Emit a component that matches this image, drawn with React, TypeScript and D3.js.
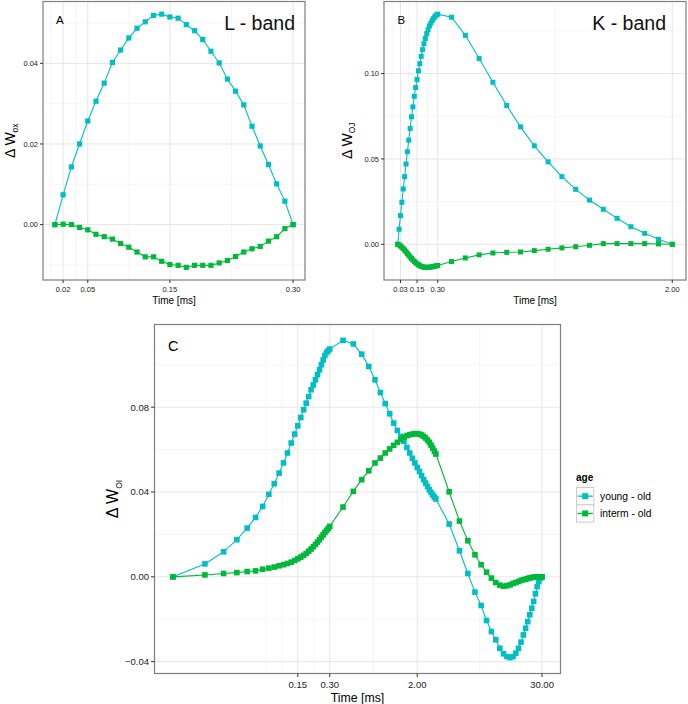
import React from 'react';
import * as d3 from 'd3';

// ---------- data ----------
const timeFast = [0.01, 0.02, 0.03, 0.04, 0.05, 0.06, 0.07, 0.08, 0.09, 0.1, 0.11, 0.12, 0.13, 0.14, 0.15, 0.16, 0.17, 0.18, 0.19, 0.2, 0.21, 0.22, 0.23, 0.24, 0.25, 0.26, 0.27, 0.28, 0.29, 0.3];
const timeMid = [0.4, 0.5, 0.6, 0.7, 0.8, 0.9, 1.0, 1.1, 1.2, 1.3, 1.4, 1.5, 1.6, 1.7, 1.8, 1.9, 2.0];
const timeMidTail = [2.1, 2.2, 2.3, 2.4, 2.5, 2.6, 2.7, 2.8, 2.9, 3.0];
const timeSlow = [4, 5, 6, 7, 8, 9, 10, 11, 12, 13, 14, 15, 16, 17, 18, 19, 20, 21, 22, 23, 24, 25, 26, 27, 28, 29, 30];

const timeL = timeFast;
const timeK = [...timeFast, ...timeMid];
const timeOI = [...timeFast, ...timeMid, ...timeMidTail, ...timeSlow];

const seriesNames = ['young - old', 'interm - old'];
const seriesColors = ['#00BFC4', '#00B83A'];

const lYoung = [0, 0.0074, 0.0143, 0.0200, 0.0257, 0.0306, 0.0351, 0.0402, 0.0433, 0.0463, 0.0487, 0.0503, 0.0519, 0.0522, 0.0515, 0.0512, 0.0496, 0.0481, 0.0459, 0.0430, 0.0401, 0.0361, 0.0331, 0.0297, 0.0244, 0.0195, 0.0149, 0.0101, 0.0058, 0];
const lInterm = [0, 0.0001, 0, -0.0007, -0.0013, -0.0024, -0.0030, -0.0036, -0.0047, -0.0056, -0.0068, -0.0080, -0.0080, -0.0091, -0.0099, -0.0101, -0.0106, -0.0101, -0.0101, -0.0101, -0.0095, -0.0089, -0.0079, -0.0068, -0.0060, -0.0054, -0.0041, -0.0030, -0.0010, 0];

const kYoung = [0, 0.0088, 0.0168, 0.0246, 0.0324, 0.0396, 0.0470, 0.0542, 0.0610, 0.0678, 0.0747, 0.0805, 0.0867, 0.0918, 0.0965, 0.1016, 0.1058, 0.1101, 0.1140, 0.1175, 0.1205, 0.1234, 0.1257, 0.1279, 0.1296, 0.1312, 0.1324, 0.1335, 0.1343, 0.1348,
  0.1330, 0.1224, 0.1088, 0.0949, 0.0813, 0.0688, 0.0577, 0.0483, 0.0396, 0.0322, 0.0259, 0.0205, 0.0152, 0.0103, 0.0064, 0.0029, 0];
const kInterm = [0, -0.0004, -0.0010, -0.0017, -0.0025, -0.0034, -0.0044, -0.0054, -0.0064, -0.0074, -0.0083, -0.0092, -0.0100, -0.0108, -0.0114, -0.0120, -0.0125, -0.0129, -0.0132, -0.0134, -0.0135, -0.0135, -0.0135, -0.0134, -0.0133, -0.0132, -0.0130, -0.0128, -0.0126, -0.0124,
  -0.0101, -0.0080, -0.0062, -0.0051, -0.0047, -0.0045, -0.0037, -0.0029, -0.0021, -0.0014, -0.0006, 0.0004, 0.0004, 0.0004, 0.0004, 0.0002, 0];

const oiYoung = [0, 0.0061, 0.0118, 0.0175, 0.0230, 0.0280, 0.0332, 0.0389, 0.0439, 0.0489, 0.0537, 0.0584, 0.0631, 0.0673, 0.0712, 0.0751, 0.0788, 0.0819, 0.0850, 0.0882, 0.0905, 0.0929, 0.0953, 0.0976, 0.1000, 0.1023, 0.1044, 0.1058, 0.1067, 0.1074,
  0.1115, 0.1098, 0.1050, 0.0992, 0.0929, 0.0869, 0.0817, 0.0769, 0.0725, 0.0690, 0.0662, 0.0639, 0.0610, 0.0584, 0.0559, 0.0537, 0.0516,
  0.0497, 0.0477, 0.0458, 0.0442, 0.0426, 0.0411, 0.0398, 0.0387, 0.0376, 0.0367,
  0.0249, 0.0123, 0.0016, -0.0072, -0.0135, -0.0206, -0.0258, -0.0297, -0.0337, -0.0363, -0.0376, -0.0381, -0.0376, -0.0360, -0.0337, -0.0308, -0.0274, -0.0242, -0.0211, -0.0179, -0.0148, -0.0116, -0.0080, -0.0046, -0.0022, -0.0006, 0];
const oiInterm = [0, 0.0009, 0.0016, 0.0020, 0.0025, 0.0028, 0.0036, 0.0041, 0.0046, 0.0052, 0.0057, 0.0063, 0.0069, 0.0077, 0.0085, 0.0093, 0.0101, 0.0110, 0.0121, 0.0131, 0.0142, 0.0153, 0.0164, 0.0175, 0.0187, 0.0198, 0.0209, 0.0219, 0.0228, 0.0238,
  0.0329, 0.0403, 0.0458, 0.0500, 0.0537, 0.0560, 0.0584, 0.0603, 0.0620, 0.0634, 0.0647, 0.0658, 0.0666, 0.0670, 0.0673, 0.0675, 0.0675,
  0.0673, 0.0669, 0.0662, 0.0655, 0.0645, 0.0634, 0.0621, 0.0607, 0.0593, 0.0579,
  0.0401, 0.0263, 0.0170, 0.0104, 0.0057, 0.0022, -0.0006, -0.0027, -0.0039, -0.0044, -0.0042, -0.0038, -0.0031, -0.0027, -0.0022, -0.0017, -0.0014, -0.0011, -0.0008, -0.0005, -0.0003, -0.0002, 0, 0, 0, 0, 0];

const xBreaksL = [0.02, 0.05, 0.15, 0.3];
const xLabelsL = ['0.02', '0.05', '0.15', '0.30'];
const yBreaksL = [0, 0.02, 0.04];
const yLabelsL = ['0.00', '0.02', '0.04'];

const xBreaksK = [0.03, 0.15, 0.3, 2.0];
const xLabelsK = ['0.03', '0.15', '0.30', '2.00'];
const yBreaksK = [0, 0.05, 0.1];
const yLabelsK = ['0.00', '0.05', '0.10'];

const xBreaksOI = [0.15, 0.3, 2.0, 30];
const xLabelsOI = ['0.15', '0.30', '2.00', '30.00'];
const yBreaksOI = [-0.04, 0, 0.04, 0.08];
const yLabelsOI = ['\u22120.04', '0.00', '0.04', '0.08'];

const FONT = "'Liberation Sans', Arial, Helvetica, sans-serif";
const TEXT = '#222';

function minorBreaks(b: number[], lim: [number, number]) {
  let br = b.slice();
  const n = br.length;
  const bd = br.slice(1).map((v, i) => v - br[i]);
  if (lim[0] < br[0]) br = [br[0] - bd[0], ...br];
  if (lim[1] > br[br.length - 1]) br = [...br, br[br.length - 1] + bd[n - 2]];
  const out: number[] = [];
  for (let i = 0; i < br.length - 1; i++) {
    out.push(br[i], (br[i] + br[i + 1]) / 2);
  }
  out.push(br[br.length - 1]);
  return out.filter(v => v > lim[0] && v < lim[1] && !b.some(m => Math.abs(m - v) < 1e-9));
}

type PanelProps = {
  left: number; top: number; right: number; bottom: number;
  times: number[]; series: number[][]; logX?: boolean;
  xBreaks: number[]; xLabels: string[]; yBreaks: number[]; yLabels: string[];
  tickFont: number; tickLen: number; xTickBase: number;
  xTitleFont: number; xTitleBase: number;
  yMain: number; ySubFont: number; ySub: string; yTitleX: number;
  letter: string; letterX: number; letterY: number; letterSize: number;
  band?: string; bandX?: number; bandY?: number;
  pt: number;
};

function Panel(p: PanelProps) {
  const tf = (v: number) => (p.logX ? Math.log10(v) : v);
  const tx = p.times.map(tf);
  const [x0, x1] = d3.extent(tx) as [number, number];
  const xr = x1 - x0;
  const xLim: [number, number] = [x0 - 0.05 * xr, x1 + 0.05 * xr];
  const all = p.series.flat();
  const [y0, y1] = d3.extent(all) as [number, number];
  const yr = y1 - y0;
  const yLim: [number, number] = [y0 - 0.05 * yr, y1 + 0.05 * yr];

  const x = p.logX
    ? d3.scaleLog().domain([10 ** xLim[0], 10 ** xLim[1]]).range([p.left, p.right])
    : d3.scaleLinear().domain(xLim).range([p.left, p.right]);
  const y = d3.scaleLinear().domain(yLim).range([p.bottom, p.top]);

  const xMinor = minorBreaks(p.xBreaks.map(tf), xLim).map(v => (p.logX ? 10 ** v : v));
  const yMinor = minorBreaks(p.yBreaks, yLim);

  const line = d3.line<number>().x((_, i) => x(p.times[i])).y(d => y(d));
  const s = p.pt;

  return (
    <g>
      <rect x={p.left} y={p.top} width={p.right - p.left} height={p.bottom - p.top} fill="#fff" />
      {xMinor.map((v, i) => (
        <line key={'xm' + i} x1={x(v)} x2={x(v)} y1={p.top} y2={p.bottom} stroke="#f4f4f4" strokeWidth={0.8} />
      ))}
      {yMinor.map((v, i) => (
        <line key={'ym' + i} y1={y(v)} y2={y(v)} x1={p.left} x2={p.right} stroke="#f4f4f4" strokeWidth={0.8} />
      ))}
      {p.xBreaks.map((v, i) => (
        <line key={'xM' + i} x1={x(v)} x2={x(v)} y1={p.top} y2={p.bottom} stroke="#e6e6e6" strokeWidth={1} />
      ))}
      {p.yBreaks.map((v, i) => (
        <line key={'yM' + i} y1={y(v)} y2={y(v)} x1={p.left} x2={p.right} stroke="#e6e6e6" strokeWidth={1} />
      ))}
      {p.series.map((ser, si) => (
        <path key={'l' + si} d={line(ser) || ''} fill="none" stroke={seriesColors[si]} strokeWidth={1.1} />
      ))}
      {p.series.map((ser, si) => (
        <g key={'p' + si} fill={seriesColors[si]}>
          {ser.map((v, i) => (
            <rect key={i} x={x(p.times[i]) - s / 2} y={y(v) - s / 2} width={s} height={s} />
          ))}
        </g>
      ))}
      <rect x={p.left} y={p.top} width={p.right - p.left} height={p.bottom - p.top} fill="none" stroke="#7f7f7f" strokeWidth={1.2} />
      {p.xBreaks.map((v, i) => (
        <g key={'xt' + i}>
          <line x1={x(v)} x2={x(v)} y1={p.bottom} y2={p.bottom + p.tickLen} stroke="#333" strokeWidth={1} />
          <text x={x(v)} y={p.xTickBase} textAnchor="middle" fontSize={p.tickFont} fill={TEXT} fontFamily={FONT}>{p.xLabels[i]}</text>
        </g>
      ))}
      {p.yBreaks.map((v, i) => (
        <g key={'yt' + i}>
          <line x1={p.left - p.tickLen} x2={p.left} y1={y(v)} y2={y(v)} stroke="#333" strokeWidth={1} />
          <text x={p.left - p.tickLen - 2} y={y(v) + p.tickFont * 0.36} textAnchor="end" fontSize={p.tickFont} fill={TEXT} fontFamily={FONT}>{p.yLabels[i]}</text>
        </g>
      ))}
      <text x={(p.left + p.right) / 2} y={p.xTitleBase} textAnchor="middle" fontSize={p.xTitleFont} fill="#000" fontFamily={FONT}>Time [ms]</text>
      <text transform={`translate(${p.yTitleX},${(p.top + p.bottom) / 2}) rotate(-90)`} textAnchor="middle" fill="#000" fontFamily={FONT} fontSize={p.yMain}>
        {'\u0394 W'}
        <tspan fontSize={p.ySubFont} dy={p.yMain * 0.22}>{p.ySub}</tspan>
      </text>
      <text x={p.letterX} y={p.letterY} fontSize={p.letterSize} fill="#000" fontFamily={FONT}>{p.letter}</text>
      {p.band && (
        <text x={p.bandX} y={p.bandY} textAnchor="end" fontSize={19.5} fill="#111" fontFamily={FONT}>{p.band}</text>
      )}
    </g>
  );
}

export default function App() {
  const keyX = 576.5;
  const keyW = 17.3;
  const keyYs = [487.5, 504.8];
  return (
    <svg width={688} height={704} style={{ position: 'absolute', left: 0, top: 0, background: '#fff' }} xmlns="http://www.w3.org/2000/svg">
      <rect x={0} y={0} width={688} height={704} fill="#fff" />
      <Panel left={43} top={1.5} right={305} bottom={280}
        times={timeL} series={[lYoung, lInterm]}
        xBreaks={xBreaksL} xLabels={xLabelsL} yBreaks={yBreaksL} yLabels={yLabelsL}
        tickFont={7.5} tickLen={3} xTickBase={291.5}
        xTitleFont={10} xTitleBase={303.5}
        yMain={14} ySubFont={8.5} ySub="ox" yTitleX={15}
        letter="A" letterX={56} letterY={24} letterSize={11.5}
        band="L - band" bandX={295} bandY={30}
        pt={5.2} />
      <Panel left={384} top={1.5} right={686} bottom={280}
        times={timeK} series={[kYoung, kInterm]}
        xBreaks={xBreaksK} xLabels={xLabelsK} yBreaks={yBreaksK} yLabels={yLabelsK}
        tickFont={7.5} tickLen={3} xTickBase={292}
        xTitleFont={10} xTitleBase={303.5}
        yMain={14} ySubFont={8.5} ySub="OJ" yTitleX={352}
        letter="B" letterX={397.5} letterY={24} letterSize={11.5}
        band="K - band" bandX={666} bandY={30}
        pt={5.0} />
      <Panel left={154.5} top={324.5} right={560.5} bottom={673.5}
        times={timeOI} series={[oiYoung, oiInterm]} logX
        xBreaks={xBreaksOI} xLabels={xLabelsOI} yBreaks={yBreaksOI} yLabels={yLabelsOI}
        tickFont={9.5} tickLen={3.5} xTickBase={688}
        xTitleFont={12.3} xTitleBase={701.5}
        yMain={16} ySubFont={8.5} ySub="OI" yTitleX={118}
        letter="C" letterX={168} letterY={351} letterSize={14.5}
        pt={5.6} />
      <text x={576} y={481} fontSize={10} fontWeight="bold" fill="#000" fontFamily={FONT}>age</text>
      {seriesNames.map((nm, i) => (
        <g key={nm}>
          <rect x={keyX} y={keyYs[i]} width={keyW} height={keyW} fill="#fff" stroke="#cccccc" strokeWidth={1} />
          <line x1={keyX + 1} x2={keyX + keyW - 1} y1={keyYs[i] + keyW / 2} y2={keyYs[i] + keyW / 2} stroke={seriesColors[i]} strokeWidth={1.3} />
          <rect x={keyX + keyW / 2 - 3} y={keyYs[i] + keyW / 2 - 3} width={6} height={6} fill={seriesColors[i]} />
          <text x={600} y={keyYs[i] + keyW / 2 + 3.6} fontSize={10.3} fill="#000" fontFamily={FONT}>{nm}</text>
        </g>
      ))}
    </svg>
  );
}
